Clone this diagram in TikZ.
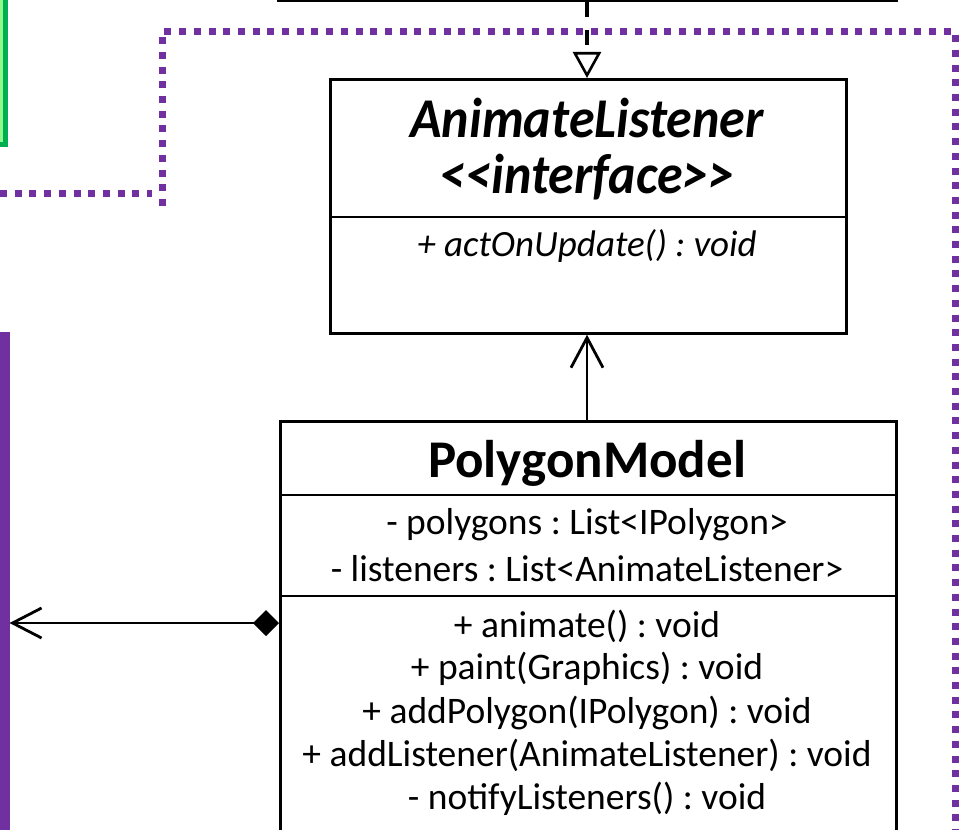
\documentclass[tikz,border=0pt]{standalone}
\usepackage{fontspec}
\usepackage{graphicx}
\setmainfont{Carlito}
\usetikzlibrary{arrows.meta}
\definecolor{umlpurple}{HTML}{7030A0}
\definecolor{umlgreen}{HTML}{00B050}
\definecolor{lightgreen}{HTML}{8CFA8C}
\definecolor{lightlav}{HTML}{F1EBF8}
\frenchspacing
\newcommand{\tallit}[1]{\scalebox{1}[1.08]{#1}}
\tikzset{
  classbox/.style={draw=black, line width=2.7pt, fill=white, inner sep=0pt, anchor=north west},
  divider/.style={draw=black, line width=2.7pt},
  dotline/.style={draw=umlpurple, line width=7pt, dash pattern=on 7pt off 7.7pt},
  txt/.style={anchor=base, inner sep=0pt},
  titleit/.style={txt, font=\fontsize{52}{56}\selectfont\bfseries\itshape},
  titlebf/.style={txt, font=\fontsize{53}{58}\selectfont\bfseries},
  memb/.style={txt, font=\fontsize{37.5}{42}\selectfont},
  membit/.style={txt, font=\fontsize{37}{42}\selectfont\itshape},
  conn/.style={draw=black, line width=2.8pt},
}
\begin{document}
\begin{tikzpicture}[x=1pt,y=-1pt]
\useasboundingbox (0,0) rectangle (973,829);
\clip (0,0) rectangle (973,829);

% green box (mostly off picture)
\node[draw=umlgreen, fill=lightgreen, line width=5pt, anchor=south east, minimum width=200pt, minimum height=200pt, inner sep=0pt] (gb) at (7.5,147.5) {};

% purple box (mostly off picture)
\node[draw=umlpurple, fill=lightlav, line width=13pt, anchor=north east, minimum width=200pt, minimum height=700pt, inner sep=0pt] (pb) at (9.5,331.5) {};

% purple dotted frames
\draw[dotline] (0,193) -- (152,193);
\draw[dotline] (162,206) -- (162,32) -- (955,32) -- (955,845);

% top class box (bottom edge visible)
\node[classbox, anchor=south west, minimum width=618pt, minimum height=120pt] (top) at (277,2) {};

% AnimateListener
\node[classbox, minimum width=516pt, minimum height=254pt] (al) at (329,78) {};
\draw[divider] (al.west |- 0,217) -- (al.east |- 0,217);
\node[titleit] (alt1) at (587,138) {\tallit{AnimateListener}};
\node[titleit] (alt2) at (587,193) {\tallit{<{}<interface>{}>}};
\node[membit] (alm1) at (587,256) {+ actOnUpdate() : void};

% PolygonModel
\node[classbox, minimum width=616pt, minimum height=480pt] (pm) at (279,420) {};
\draw[divider] (pm.west |- 0,495) -- (pm.east |- 0,495);
\draw[divider] (pm.west |- 0,596) -- (pm.east |- 0,596);
\node[titlebf] (pmt) at (587,477) {PolygonModel};
\node[memb] (pa1) at (587,534) {- polygons : List<IPolygon>};
\node[memb] (pa2) at (587,581) {- listeners : List<AnimateListener>};
\node[memb] (po1) at (587,637) {+ animate() : void};
\node[memb] (po2) at (587,679) {+ paint(Graphics) : void};
\node[memb] (po3) at (587,723) {+ addPolygon(IPolygon) : void};
\node[memb] (po4) at (587,766) {+ addListener(AnimateListener) : void};
\node[memb] (po5) at (587,809) {- notifyListeners() : void};

% connectors
\coordinate (cx) at (587,0);
\coordinate (ly) at (0,623);
\draw[draw=black, line width=4pt, dash pattern=on 15pt off 13pt,
  -{Triangle[open, length=26pt, width=28pt, line width=2.6pt]}]
  (top.south -| cx) -- (al.north -| cx);
\draw[conn, -{Straight Barb[length=30pt, width=32pt, line width=2.8pt]}]
  (pm.north -| cx) -- (al.south -| cx);
\draw[conn, {Diamond[length=26pt, width=26pt]}-{Straight Barb[length=29pt, width=30pt, line width=2.8pt]}]
  (pm.west |- ly) -- (pb.east |- ly);
\end{tikzpicture}
\end{document}
